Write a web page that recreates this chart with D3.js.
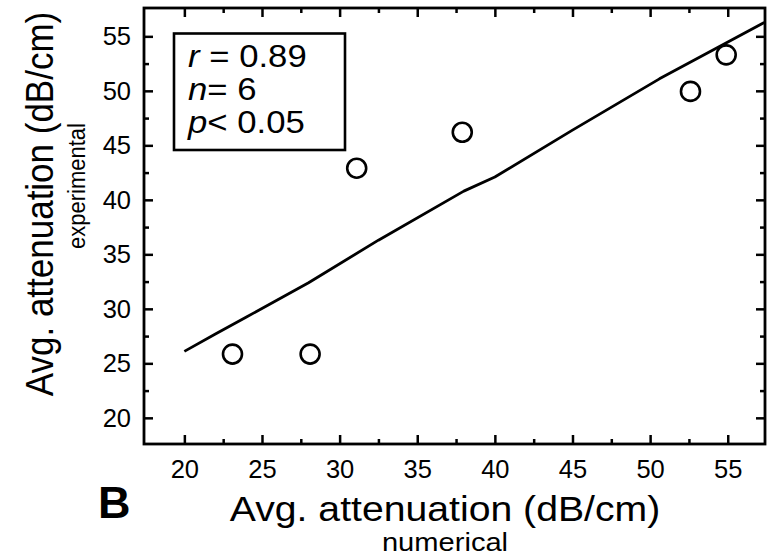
<!DOCTYPE html>
<html>
<head>
<meta charset="utf-8">
<script src="https://cdn.jsdelivr.net/npm/d3@7"></script>
<style>
  html, body { margin: 0; padding: 0; background: #fff; }
  svg { display: block; }
  text { font-family: "Liberation Sans", Arial, Helvetica, sans-serif; fill: #000; }
</style>
</head>
<body>
<svg id="chart" width="767" height="556"></svg>
<script>
// numerical vs experimental attenuation (dB/cm)
const xNumerical = [23.1, 28.1, 31.1, 37.9, 52.6, 54.9];
const yExperimental = [25.85, 25.85, 42.9, 46.2, 49.95, 53.3];

// fitted line as drawn in the figure
const fitX = [20, 22, 24, 28, 32.5, 38, 40, 45, 50.6, 57.4];
const fitY = [26.1, 27.7, 29.25, 32.4, 36.3, 40.8, 42.1, 46.4, 51.1, 56.3];

const majorTicks = [20, 25, 30, 35, 40, 45, 50, 55];
const minorTicks = [22.5, 27.5, 32.5, 37.5, 42.5, 47.5, 52.5];

const statsLines = [
  { sym: "r", rest: " = 0.89" },
  { sym: "n", rest: "= 6" },
  { sym: "p", rest: "< 0.05" }
];

const svg = d3.select("#chart");
const plot = { left: 144, right: 765, top: 8, bottom: 444 };
const stretch = 1.12; // the figure's text is a little wide

const x = d3.scaleLinear().domain([17.4, 57.4]).range([plot.left, plot.right]);
const y = d3.scaleLinear().domain([17.6, 57.6]).range([plot.bottom, plot.top]);

svg.append("clipPath").attr("id", "plotclip")
  .append("rect")
  .attr("x", plot.left).attr("y", plot.top)
  .attr("width", plot.right - plot.left).attr("height", plot.bottom - plot.top);

// axes: ticks all pointing inward
function styleAxis(g, showText) {
  g.select(".domain").remove();
  g.selectAll(".tick line").attr("stroke", "#000").attr("stroke-width", 2.5);
  g.selectAll(".tick text")
    .style("font-size", "25.5px")
    .style("font-family", '"Liberation Sans", Arial, sans-serif');
  if (!showText) g.selectAll(".tick text").remove();
}

svg.append("g").attr("transform", `translate(0,${plot.bottom})`)
  .call(d3.axisBottom(x).tickValues(majorTicks).tickSize(-9).tickPadding(16).tickFormat(d3.format("d")))
  .call(g => styleAxis(g, true));
svg.append("g").attr("transform", `translate(0,${plot.bottom})`)
  .call(d3.axisBottom(x).tickValues(minorTicks).tickSize(-5))
  .call(g => styleAxis(g, false));
svg.append("g").attr("transform", `translate(0,${plot.top})`)
  .call(d3.axisTop(x).tickValues(majorTicks).tickSize(-9))
  .call(g => styleAxis(g, false));
svg.append("g").attr("transform", `translate(0,${plot.top})`)
  .call(d3.axisTop(x).tickValues(minorTicks).tickSize(-5))
  .call(g => styleAxis(g, false));

svg.append("g").attr("transform", `translate(${plot.left},0)`)
  .call(d3.axisLeft(y).tickValues(majorTicks).tickSize(-9).tickPadding(13).tickFormat(d3.format("d")))
  .call(g => styleAxis(g, true));
svg.append("g").attr("transform", `translate(${plot.left},0)`)
  .call(d3.axisLeft(y).tickValues(minorTicks).tickSize(-5))
  .call(g => styleAxis(g, false));
svg.append("g").attr("transform", `translate(${plot.right},0)`)
  .call(d3.axisRight(y).tickValues(majorTicks).tickSize(-9))
  .call(g => styleAxis(g, false));
svg.append("g").attr("transform", `translate(${plot.right},0)`)
  .call(d3.axisRight(y).tickValues(minorTicks).tickSize(-5))
  .call(g => styleAxis(g, false));

// frame
svg.append("rect")
  .attr("x", plot.left).attr("y", plot.top)
  .attr("width", plot.right - plot.left).attr("height", plot.bottom - plot.top)
  .attr("fill", "none").attr("stroke", "#000").attr("stroke-width", 2.8);

// fitted line
const line = d3.line().x(d => x(d[0])).y(d => y(d[1]));
svg.append("path")
  .datum(d3.zip(fitX, fitY))
  .attr("clip-path", "url(#plotclip)")
  .attr("d", line)
  .attr("fill", "none").attr("stroke", "#000").attr("stroke-width", 2.8)
  .attr("stroke-linejoin", "round");

// data points
svg.selectAll(".pt")
  .data(d3.zip(xNumerical, yExperimental))
  .enter().append("circle")
  .attr("class", "pt")
  .attr("cx", d => x(d[0]))
  .attr("cy", d => y(d[1]))
  .attr("r", 9.5)
  .attr("fill", "none").attr("stroke", "#000").attr("stroke-width", 2.6);

// stats box
svg.append("rect")
  .attr("x", 174).attr("y", 33.5)
  .attr("width", 171).attr("height", 116.5)
  .attr("fill", "none").attr("stroke", "#000").attr("stroke-width", 2.6);

statsLines.forEach((s, i) => {
  const t = svg.append("text")
    .attr("transform", `translate(188,${67 + i * 33}) scale(${stretch},1)`)
    .style("font-size", "31px");
  t.append("tspan").style("font-style", "italic").text(s.sym);
  t.append("tspan").text(s.rest);
});

// axis titles
svg.append("text")
  .attr("transform", `translate(445,521) scale(${stretch},1)`)
  .attr("text-anchor", "middle")
  .style("font-size", "35px")
  .text("Avg. attenuation (dB/cm)");
svg.append("text")
  .attr("transform", `translate(445,551) scale(${stretch},1)`)
  .attr("text-anchor", "middle")
  .style("font-size", "26px")
  .text("numerical");

svg.append("text")
  .attr("transform", `translate(53,204) scale(${stretch},1) rotate(-90)`)
  .attr("text-anchor", "middle")
  .style("font-size", "35px")
  .text("Avg. attenuation (dB/cm)");
svg.append("text")
  .attr("transform", `translate(85,186) scale(${stretch},1) rotate(-90)`)
  .attr("text-anchor", "middle")
  .style("font-size", "22px")
  .text("experimental");

// panel letter
svg.append("text")
  .attr("x", 98).attr("y", 518)
  .style("font-size", "45px").style("font-weight", "bold")
  .text("B");
</script>
</body>
</html>
